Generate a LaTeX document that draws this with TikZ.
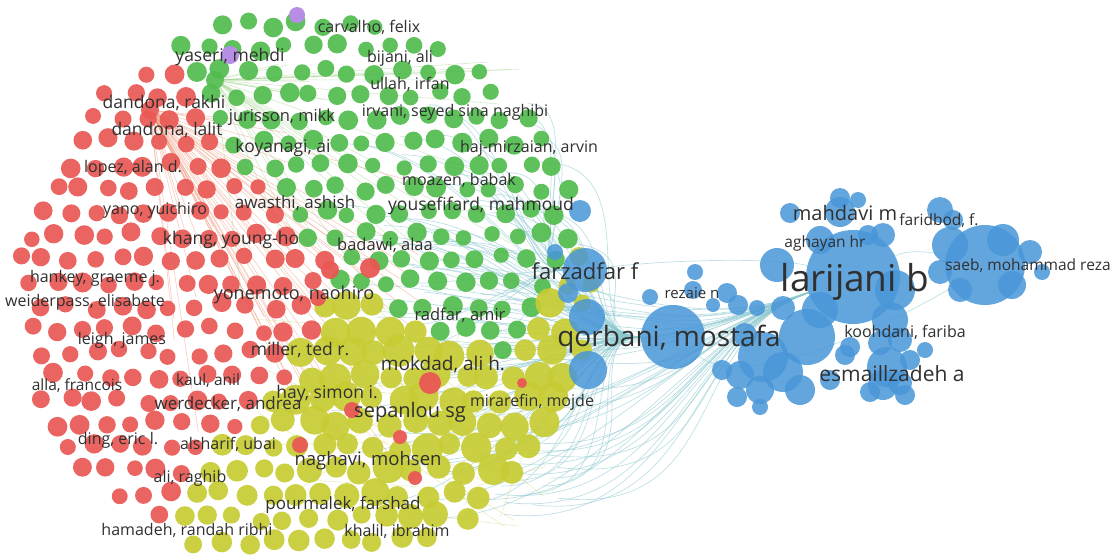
\documentclass[tikz,border=0pt]{standalone}
\usepackage{fontspec}
\setmainfont{Open Sans}
\pgfdeclarelayer{bg}
\pgfsetlayers{bg,main}
\definecolor{vred}{RGB}{233,88,84}
\definecolor{vgreen}{RGB}{82,188,78}
\definecolor{vyel}{RGB}{199,204,52}
\definecolor{vblue}{RGB}{72,150,216}
\definecolor{vpurp}{RGB}{183,142,230}
\definecolor{txtc}{RGB}{48,48,48}
\definecolor{ecyan}{RGB}{140,200,208}
\definecolor{ered}{RGB}{240,140,110}
\definecolor{egreen}{RGB}{160,210,140}
\definecolor{eyel}{RGB}{215,215,120}
\newcommand\fsz[1]{\fontsize{#1}{#1}\selectfont}
\begin{document}
\begin{tikzpicture}[x=1pt,y=-1pt,
  lbl/.style={text=txtc,inner sep=0pt,anchor=center},
  bn/.style={circle,fill=vblue,fill opacity=0.85,inner sep=0pt,minimum size=#1},
  hub/.style={circle,fill=#1,fill opacity=0.92,inner sep=0pt,minimum size=18pt},
  edgeb/.style={draw=ecyan,draw opacity=0.55,line width=0.7pt},
  edger/.style={draw=ered,draw opacity=0.45,line width=0.6pt},
  edgeg/.style={draw=egreen,draw opacity=0.45,line width=0.6pt},
  edgey/.style={draw=eyel,draw opacity=0.45,line width=0.6pt}]
\begin{pgfonlayer}{bg}
\fill[white] (0,0) rectangle (1115,557);
\end{pgfonlayer}
\path[use as bounding box] (0,0) rectangle (1115,557);
\pgfmathsetseed{7}
% ---- left cluster ----
\foreach \i in {0,...,22}{
 \foreach \j in {0,...,23}{
  \pgfmathsetmacro\cx{18+\j*25.5+mod(\i,2)*12.75+4*rand}
  \pgfmathsetmacro\cy{24+\i*23.5+4*rand}
  \pgfmathsetmacro\ux{(\cx-305)/288}
  \pgfmathsetmacro\uy{(\cy-292)/282}
  \pgfmathtruncatemacro\ins{(\ux*\ux+\uy*\uy<1)?1:0}
  \ifnum\ins=1
   \pgfmathsetmacro\u{\cx+18*rand}
   \pgfmathsetmacro\v{\cy+18*rand}
   \pgfmathtruncatemacro\isred{(\v<250)?(((\u-195)*1.75-(\v-75)<0)?1:0):((\v<390)?((\u<340-0.4*(\v-250))?1:0):((\u<284-(\v-390))?1:0))}
   \pgfmathtruncatemacro\isgreen{(\v<min(270+0.45*(\u-300),340-2*(\u-520)))?1:0}
   \pgfmathtruncatemacro\col{(\isred==1)?2:((\isgreen==1)?1:3)}
   \pgfmathsetmacro\dd{veclen(\cx-420,\cy-370)}
   \pgfmathsetmacro\rr{(\col==3)?((\dd<150)?(10.5+5.5*rnd):(8.5+2.5*rnd)):(7.6+2.4*rnd)}
   \ifcase\col\or\def\cc{vgreen}\or\def\cc{vred}\or\def\cc{vyel}\fi
   \fill[\cc,fill opacity=0.92] (\cx,\cy) circle[radius=\rr pt];
  \fi
 }
}
\foreach \x/\y/\r in {330/270/9,370/268/10,430/383/11,352/410/8,400/437/7,522/383/5,300/445/8,318/298/8,415/478/7}
  \fill[vred,fill opacity=0.95] (\x,\y) circle[radius=\r pt];
\fill[vpurp] (297,15) circle[radius=8pt];
\fill[vpurp] (230,55) circle[radius=9pt];
\node[hub=vred] (dand) at (150,110) {};
\node[hub=vgreen] (gtop) at (215,80) {};
% ---- blue cluster ----
\foreach \x/\y/\r in {580/211/11,555/252/8,568/293/10,587/317/18,588/370/19,
  695/272/8,650/297/8,693/290/9,713/305/7,727/293/10,738/305/10,757/308/8,
  777/265/17,783/308/12,763/357/25,745/335/12,
  790/213/10,840/212/15,840/198/10,858/200/8,883/235/12,868/235/10,
  940/210/13,953/220/10,820/240/14,895/290/20,890/320/18,820/310/18,
  807/337/28,783/372/20,760/390/14,800/390/15,830/380/10,845/355/10,
  850/347/10,880/343/12,900/340/12,887/367/20,900/383/12,883/385/15,870/392/10,
  910/360/10,925/350/8,740/375/14,722/370/10,737/397/10,760/407/8,
  950/245/18,1003/240/16,1030/252/12,960/290/12,1012/285/14,1042/272/8,940/272/12,905/395/10}
  \fill[vblue,fill opacity=0.85] (\x,\y) circle[radius=\r pt];
\node[bn=44pt] (farz) at (585,270) {};
\node[bn=64pt] (qorb) at (673,337) {};
\node[bn=94pt] (lari) at (853,277) {};
\node[bn=80pt] (saeb) at (985,265) {};
% ---- edges ----
\begin{pgfonlayer}{bg}
\foreach \k in {1,...,80}{
  \pgfmathsetmacro\ex{330+230*rnd}
  \pgfmathsetmacro\ey{130+380*rnd}
  \coordinate (ea\k) at (\ex,\ey);
  \draw[edgeb] (ea\k) .. controls +(110,0) and +(-100,0) .. (qorb);
}
\foreach \k in {1,...,40}{
  \pgfmathsetmacro\ex{380+180*rnd}
  \pgfmathsetmacro\ey{250+270*rnd}
  \coordinate (eb\k) at (\ex,\ey);
  \draw[edgeb] (eb\k) .. controls +(170,20) and +(-170,60) .. (lari);
}
\foreach \k in {1,...,20}{
  \pgfmathsetmacro\ex{400+160*rnd}
  \pgfmathsetmacro\ey{100+250*rnd}
  \coordinate (ec\k) at (\ex,\ey);
  \draw[edgeb] (ec\k) .. controls +(60,0) and +(-60,0) .. (farz);
}
\foreach \k in {1,...,45}{
  \pgfmathsetmacro\ex{170+270*rnd}
  \pgfmathsetmacro\ey{120+350*rnd}
  \coordinate (ed\k) at (\ex,\ey);
  \draw[edger] (dand) -- (ed\k);
}
\foreach \k in {1,...,30}{
  \pgfmathsetmacro\ex{240+320*rnd}
  \pgfmathsetmacro\ey{60+270*rnd}
  \coordinate (ee\k) at (\ex,\ey);
  \draw[edgeg] (gtop) -- (ee\k);
}
\foreach \k in {1,...,30}{
  \pgfmathsetmacro\ax{250+300*rnd}
  \pgfmathsetmacro\ay{300+230*rnd}
  \pgfmathsetmacro\bx{250+300*rnd}
  \pgfmathsetmacro\by{300+230*rnd}
  \coordinate (fa\k) at (\ax,\ay);
  \coordinate (fb\k) at (\bx,\by);
  \draw[edgey] (fa\k) -- (fb\k);
}
\draw[edgeb] (qorb) -- (lari);
\draw[edgeb] (farz) .. controls +(80,-10) and +(-80,-20) .. (lari);
\draw[edgeb] (lari) .. controls +(60,-30) and +(-40,-10) .. (saeb);
\draw[edgeb] (qorb) .. controls +(80,60) and +(-60,40) .. (saeb);
\end{pgfonlayer}
% ---- labels ----
\node[lbl,font=\fsz{16}] (t1) at (369,27) {carvalho, felix};
\node[lbl,font=\fsz{17.5}] (t2) at (230,57) {yaseri, mehdi};
\node[lbl,font=\fsz{16}] (t3) at (400,58) {bijani, ali};
\node[lbl,font=\fsz{16}] (t4) at (410,84) {ullah, irfan};
\node[lbl,font=\fsz{17.5}] (t5) at (164,103) {dandona, rakhi};
\node[lbl,font=\fsz{16.5}] (t6) at (282,117) {jurisson, mikk};
\node[lbl,font=\fsz{16}] (t7) at (455,112) {irvani, seyed sina naghibi};
\node[lbl,font=\fsz{17.5}] (t8) at (167,130) {dandona, lalit};
\node[lbl,font=\fsz{17.5}] (t9) at (283,148) {koyanagi, ai};
\node[lbl,font=\fsz{16}] (t10) at (529,148) {haj-mirzaian, arvin};
\node[lbl,font=\fsz{16}] (t11) at (133,168) {lopez, alan d.};
\node[lbl,font=\fsz{16}] (t12) at (459,180) {moazen, babak};
\node[lbl,font=\fsz{16}] (t13) at (155,210) {yano, yuichiro};
\node[lbl,font=\fsz{17}] (t14) at (295,203) {awasthi, ashish};
\node[lbl,font=\fsz{17.5}] (t15) at (481,206) {yousefifard, mahmoud};
\node[lbl,font=\fsz{17.5}] (t16) at (231,240) {khang, young-ho};
\node[lbl,font=\fsz{16.5}] (t17) at (385,245) {badawi, alaa};
\node[lbl,font=\fsz{16}] (t18) at (95,278) {hankey, graeme j.};
\node[lbl,font=\fsz{16}] (t19) at (85,302) {weiderpass, elisabete};
\node[lbl,font=\fsz{18}] (t20) at (294,295) {yonemoto, naohiro};
\node[lbl,font=\fsz{16.5}] (t21) at (460,315) {radfar, amir};
\node[lbl,font=\fsz{16}] (t22) at (122,340) {leigh, james};
\node[lbl,font=\fsz{17.5}] (t23) at (300,350) {miller, ted r.};
\node[lbl,font=\fsz{19}] (t24) at (443,364) {mokdad, ali h.};
\node[lbl,font=\fsz{15.5}] (t25) at (77,386) {alla, francois};
\node[lbl,font=\fsz{15.5}] (t26) at (208,381) {kaul, anil};
\node[lbl,font=\fsz{17.5}] (t27) at (327,394) {hay, simon i.};
\node[lbl,font=\fsz{16}] (t28) at (532,402) {mirarefin, mojde};
\node[lbl,font=\fsz{17}] (t29) at (228,404) {werdecker, andrea};
\node[lbl,font=\fsz{20}] (t30) at (410,412) {sepanlou sg};
\node[lbl,font=\fsz{16}] (t31) at (118,440) {ding, eric l.};
\node[lbl,font=\fsz{16}] (t32) at (228,444) {alsharif, ubai};
\node[lbl,font=\fsz{18.5}] (t33) at (368,461) {naghavi, mohsen};
\node[lbl,font=\fsz{16}] (t34) at (190,478) {ali, raghib};
\node[lbl,font=\fsz{17}] (t35) at (343,505) {pourmalek, farshad};
\node[lbl,font=\fsz{16}] (t36) at (187,530) {hamadeh, randah ribhi};
\node[lbl,font=\fsz{16}] (t37) at (397,531) {khalil, ibrahim};
\node[lbl,font=\fsz{22}] (t38) at (585,271) {farzadfar f};
\node[lbl,font=\fsz{15}] (t39) at (692,293) {rezaie n};
\node[lbl,font=\fsz{28}] (t40) at (669,339) {qorbani, mostafa};
\node[lbl,font=\fsz{20}] (t41) at (845,213) {mahdavi m};
\node[lbl,font=\fsz{15.5}] (t42) at (939,221) {faridbod, f.};
\node[lbl,font=\fsz{15.5}] (t43) at (825,243) {aghayan hr};
\node[lbl,font=\fsz{37}] (t44) at (855,282) {larijani b};
\node[lbl,font=\fsz{15.5}] (t45) at (1028,266) {saeb, mohammad reza};
\node[lbl,font=\fsz{16}] (t46) at (905,332) {koohdani, fariba};
\node[lbl,font=\fsz{21}] (t47) at (892,374) {esmaillzadeh a};
\end{tikzpicture}
\end{document}
